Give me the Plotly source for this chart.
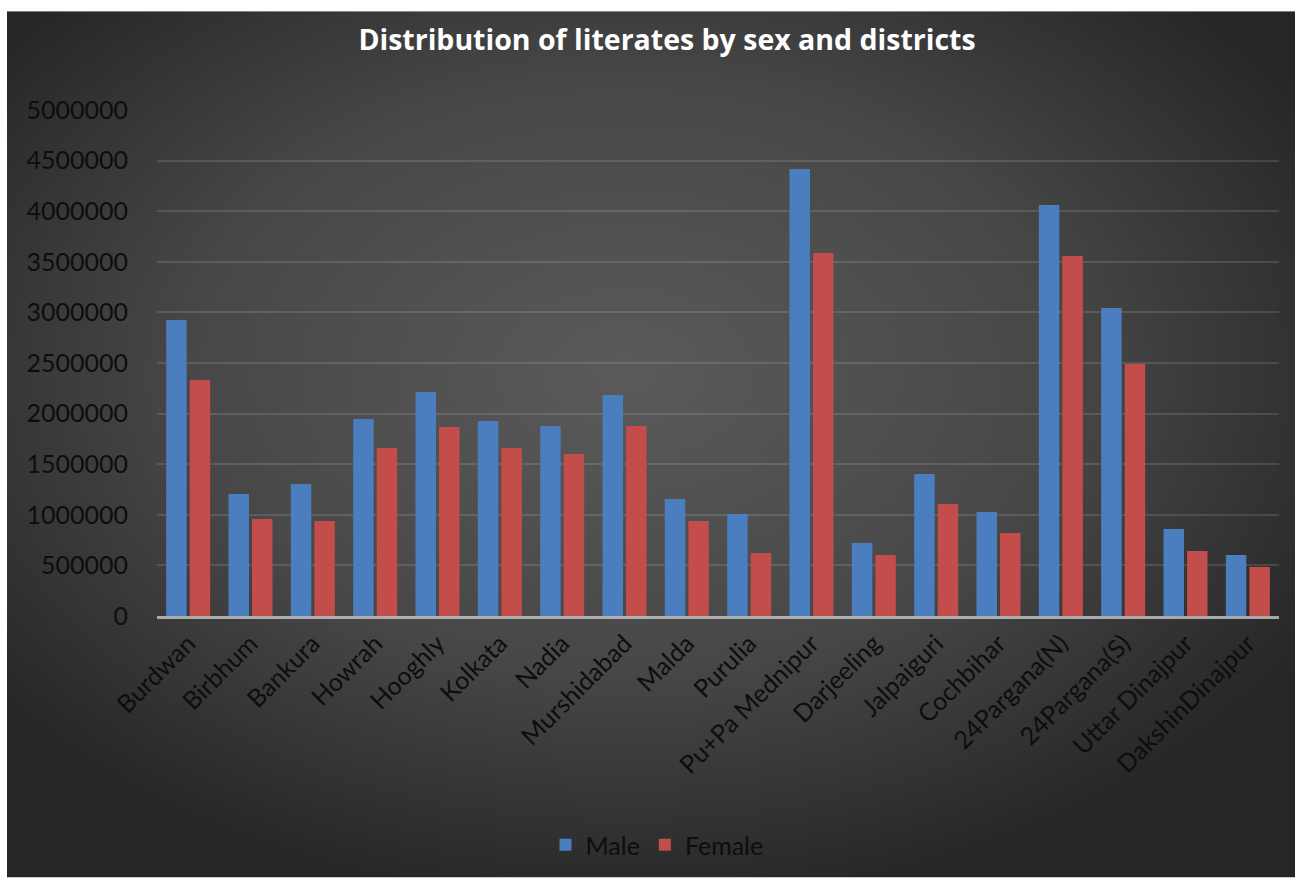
import base64
import plotly.graph_objects as go

districts = ["Burdwan", "Birbhum", "Bankura", "Howrah", "Hooghly", "Kolkata", "Nadia",
             "Murshidabad", "Malda", "Purulia", "Pu+Pa Mednipur", "Darjeeling", "Jalpaiguri",
             "Cochbihar", "24Pargana(N)", "24Pargana(S)", "Uttar Dinajpur", "DakshinDinajpur"]
male = [2925000, 1206000, 1305000, 1947000, 2214000, 1927000, 1878000,
        2184000, 1156000, 1008000, 4418000, 721000, 1403000,
        1028000, 4062000, 3044000, 860000, 603000]
female = [2332000, 959000, 939000, 1660000, 1868000, 1660000, 1601000,
          1878000, 939000, 623000, 3588000, 603000, 1107000,
          820000, 3558000, 2491000, 642000, 484000]
y_ticks = [0, 500000, 1000000, 1500000, 2000000, 2500000, 3000000, 3500000, 4000000, 4500000, 5000000]
y_tick_text = [str(v) for v in y_ticks]

W, H = 1295, 879
L, R, T, B = 157, 16, 110, 262
pw, ph = W - L - R, H - T - B

svg = ('<svg xmlns="http://www.w3.org/2000/svg" width="1288" height="868" preserveAspectRatio="none">'
       '<defs><radialGradient id="g" cx="0.48" cy="0.42" r="0.62">'
       '<stop offset="0" stop-color="#5a5a5a"/><stop offset="0.55" stop-color="#474747"/>'
       '<stop offset="1" stop-color="#262626"/></radialGradient></defs>'
       '<rect width="1288" height="868" fill="url(#g)"/></svg>')
src = "data:image/svg+xml;base64," + base64.b64encode(svg.encode()).decode()

font = "Lato, 'Open Sans', sans-serif"

fig = go.Figure()
fig.add_trace(go.Bar(name="Male", x=districts, y=male, marker=dict(color="#4A7EBF", line=dict(width=0))))
fig.add_trace(go.Bar(name="Female", x=districts, y=female, marker=dict(color="#C24D4A", line=dict(width=0))))

x0 = (7 - L) / pw
x1 = (W - L) / pw
y_top = (H - B - 11) / ph
y_bot = (H - B - H) / ph

fig.update_layout(
    width=W, height=H,
    margin=dict(l=L, r=R, t=T, b=B, pad=0),
    paper_bgcolor="white",
    plot_bgcolor="rgba(0,0,0,0)",
    barmode="group", bargap=0.245, bargroupgap=0.13,
    images=[dict(source=src, xref="paper", yref="paper", x=x0, y=y_top,
                 sizex=x1 - x0, sizey=y_top - y_bot, sizing="stretch",
                 xanchor="left", yanchor="top", layer="below")],
    title=dict(text="<b>Distribution of literates by sex and districts</b>",
               x=667 / W, xref="container", xanchor="center",
               y=1 - 40 / H, yref="container", yanchor="middle",
               font=dict(family="'Open Sans', Lato, sans-serif", size=28.5, color="white")),
    font=dict(family=font, color="#0d0d0d"),
    showlegend=True,
    legend=dict(orientation="h", x=(657 - L) / pw, xanchor="center",
                y=(H - B - 845) / ph, yanchor="middle",
                font=dict(family=font, size=25, color="#0d0d0d"),
                bgcolor="rgba(0,0,0,0)", traceorder="normal"),
    xaxis=dict(tickangle=-45, tickfont=dict(family=font, size=25, color="#0d0d0d"),
               showgrid=False, showline=True, linecolor="rgba(210,210,210,0.75)",
               linewidth=3, layer="above traces", ticks="", range=[-0.5, 17.5]),
    yaxis=dict(range=[0, 5000000], tickvals=y_ticks, ticktext=y_tick_text,
               tickfont=dict(family=font, size=25, color="#0d0d0d"),
               showgrid=True, gridcolor="rgba(255,255,255,0.12)", gridwidth=2,
               zeroline=False, ticks="", ticklabelstandoff=28, showline=False),
)

fig.write_html("out.html")
